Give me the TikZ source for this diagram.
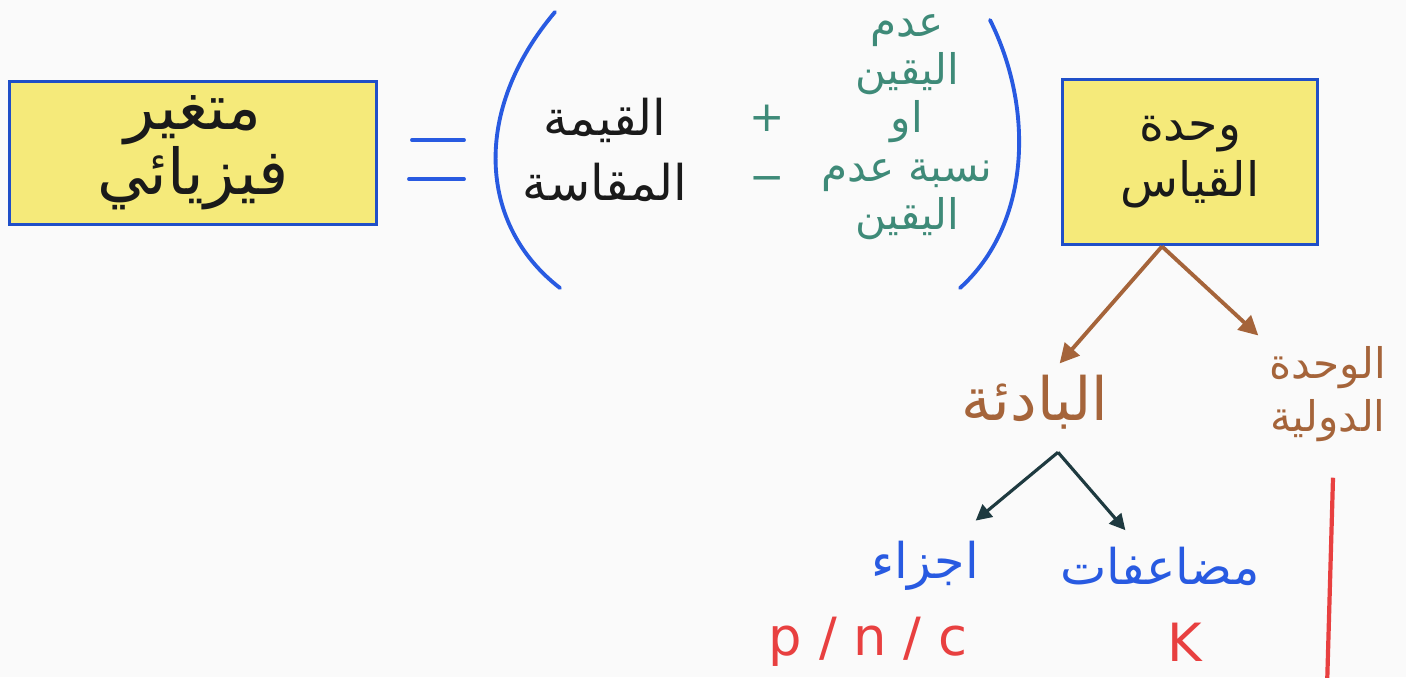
\documentclass[tikz,border=0pt]{standalone}
\usepackage{fontspec}
\usetikzlibrary{arrows.meta,positioning,calc}
\setmainfont{DejaVu Sans}
\newfontfamily\arabicfont[Script=Arabic]{DejaVu Sans}
\TeXXeTstate=1
\definecolor{paper}{RGB}{250,250,250}
\definecolor{boxblue}{RGB}{31,79,200}
\definecolor{boxfill}{RGB}{245,234,122}
\definecolor{inkblue}{RGB}{40,90,225}
\definecolor{inkteal}{RGB}{62,138,120}
\definecolor{inkbrown}{RGB}{165,100,58}
\definecolor{inkdark}{RGB}{30,58,64}
\definecolor{inkred}{RGB}{232,64,64}
\definecolor{inkblack}{RGB}{26,26,26}
\newcommand{\artext}[1]{{\arabicfont\beginR #1\endR}}

\begin{document}
\begin{tikzpicture}[x=0.02cm,y=-0.02cm,
  keybox/.style={draw=boxblue,line width=2.2pt,fill=boxfill,align=center,
    text=inkblack},
  eqbar/.style={draw=inkblue,line width=2.2pt,line cap=round},
  paren/.style={draw=inkblue,line width=2.2pt,line cap=round},
  blacktxt/.style={text=inkblack,align=center,font=\fontsize{28}{37}\selectfont},
  tealtxt/.style={text=inkteal,align=center,font=\fontsize{24}{27.5}\selectfont},
  browntxt/.style={text=inkbrown,align=center,font=\fontsize{24}{30}\selectfont},
  bluetxt/.style={text=inkblue,align=center,font=\fontsize{28}{30}\selectfont},
  redtxt/.style={text=inkred,inner sep=1pt,font=\fontsize{30}{30}\selectfont},
  brownarrow/.style={draw=inkbrown,line width=2.2pt,-{Triangle[length=11pt,width=11pt]}},
  darkarrow/.style={draw=inkdark,line width=1.8pt,-{Triangle[length=9pt,width=9pt]}}]
\fill[paper] (0,0) rectangle (1406,677);
\useasboundingbox (0,0) rectangle (1406,677);

% left box and equals sign
\node[keybox,minimum width=7.34cm,minimum height=2.86cm,
  font=\fontsize{36}{33}\selectfont] (var) at (193,153)
  {\artext{متغير}\\\artext{فيزيائي}};
\draw[eqbar] (412,140) -- (464,140);
\draw[eqbar] (409,179) -- (464,179);

% brackets
\draw[paren] (555,12) .. controls (472,110) and (478,225) .. (560,288);
\draw[paren] (990,20) .. controls (1035,110) and (1030,225) .. (960,288);
\node[blacktxt] (meas) at (605,150) {\artext{القيمة}\\\artext{المقاسة}};
\node[text=inkteal,align=center,font=\fontsize{24}{34}\selectfont] (pm) at (767,148) {+\\−};
\node[tealtxt] (unc) at (907,127)
  {\artext{عدم}\\\artext{اليقين}\\\artext{او}\\\artext{نسبة عدم}\\\artext{اليقين}};

% unit box
\node[keybox,minimum width=5.1cm,minimum height=3.3cm,
  font=\fontsize{27}{32}\selectfont] (unit) at (1190,162)
  {\artext{وحدة}\\\artext{القياس}};
\coordinate (fork) at ([xshift=-0.56cm]unit.south);

\node[browntxt,font=\fontsize{34}{30}\selectfont] (prefix) at (1035,402) {\artext{البادئة}};
\node[browntxt] (intl) at (1328,394) {\artext{الوحدة}\\\artext{الدولية}};
\draw[brownarrow,shorten >=4pt] (fork) -- ([xshift=0.4cm]prefix.north);
\draw[brownarrow,shorten >=4pt] (fork) -- (intl.north west);

% prefixes
\coordinate (split) at ([xshift=0.46cm,yshift=-0.34cm]prefix.south);
\node[bluetxt] (parts) at (925,566) {\artext{اجزاء}};
\node[bluetxt] (mult) at (1160,566) {\artext{مضاعفات}};
\draw[darkarrow,shorten >=4pt] (split) -- ([xshift=-0.3cm,yshift=0.2cm]parts.north east);
\draw[darkarrow,shorten >=4pt] (split) -- ([xshift=-0.6cm,yshift=0.1cm]mult.north);
\node[redtxt] (psym) at (868,642) {p / n / c};
\node[redtxt] (ksym) at (1185,642) {K};
\draw[inkred,line width=2.4pt] ([xshift=0.1cm,yshift=-0.6cm]intl.south) -- ++(-6,210);
\end{tikzpicture}
\end{document}
